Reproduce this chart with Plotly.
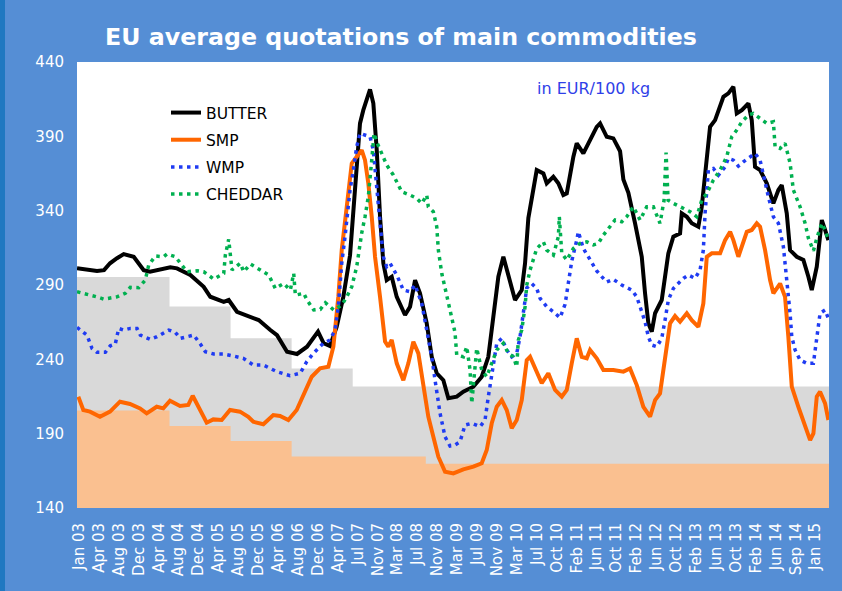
import pandas as pd
import plotly.graph_objects as go

# ---------------- data (time as decimal years, values in EUR/100 kg) ----------------
butter_t = [2002.984, 2003.147, 2003.311, 2003.426, 2003.524, 2003.638, 2003.748, 2003.912, 2004.075, 2004.178,
            2004.342, 2004.511, 2004.620, 2004.838, 2005.057, 2005.165, 2005.385, 2005.466, 2005.602, 2005.820,
            2005.957, 2006.147, 2006.257, 2006.421, 2006.584, 2006.748, 2006.928, 2007.021, 2007.124, 2007.234,
            2007.342, 2007.452, 2007.506, 2007.561, 2007.615, 2007.669, 2007.725, 2007.779, 2007.833, 2007.889,
            2007.943, 2007.997, 2008.052, 2008.134, 2008.216, 2008.352, 2008.434, 2008.516, 2008.597, 2008.707,
            2008.789, 2008.871, 2008.979, 2009.061, 2009.198, 2009.306, 2009.470, 2009.607, 2009.715, 2009.797,
            2009.879, 2009.961, 2010.071, 2010.152, 2010.262, 2010.316, 2010.370, 2010.452, 2010.507, 2010.616,
            2010.671, 2010.779, 2010.861, 2010.943, 2010.999, 2011.107, 2011.162, 2011.270, 2011.380, 2011.489,
            2011.544, 2011.653, 2011.761, 2011.871, 2011.925, 2012.007, 2012.116, 2012.226, 2012.280, 2012.334,
            2012.390, 2012.444, 2012.553, 2012.661, 2012.743, 2012.853, 2012.881, 2012.963, 2013.044, 2013.152,
            2013.208, 2013.290, 2013.344, 2013.426, 2013.508, 2013.562, 2013.643, 2013.725, 2013.781, 2013.863,
            2013.971, 2014.026, 2014.080, 2014.162, 2014.272, 2014.380, 2014.462, 2014.517, 2014.599, 2014.653,
            2014.763, 2014.871, 2014.953, 2015.008, 2015.090, 2015.172, 2015.226, 2015.280]
butter_v = [301.2, 300.5, 299.4, 300.0, 304.6, 308.0, 310.8, 309.0, 300.0, 299.0,
            300.5, 301.9, 301.2, 296.7, 288.8, 282.1, 278.7, 279.9, 272.0, 268.6,
            266.4, 259.7, 256.3, 245.1, 243.6, 248.5, 258.6, 250.8, 249.0, 262.0,
            282.0, 310.0, 340.4, 374.0, 398.7, 407.6, 414.4, 421.6, 412.2, 380.7,
            335.9, 304.6, 293.3, 295.6, 282.0, 269.8, 275.4, 293.3, 284.4, 264.2,
            241.7, 230.6, 226.0, 213.8, 214.9, 218.2, 221.6, 228.3, 241.7, 266.4,
            295.6, 309.0, 293.3, 279.9, 286.6, 304.6, 335.0, 353.9, 367.3, 365.1,
            358.4, 362.8, 358.4, 350.5, 351.6, 376.3, 385.3, 378.5, 387.5, 396.4,
            398.7, 389.7, 388.6, 380.0, 361.0, 352.0, 331.5, 309.0, 284.4, 264.2,
            258.6, 271.0, 279.9, 311.3, 322.5, 324.7, 338.2, 335.9, 331.5, 329.2,
            342.6, 371.8, 396.4, 400.9, 409.9, 416.6, 418.9, 423.3, 405.4, 407.6,
            412.2, 400.9, 369.5, 367.3, 358.4, 344.9, 353.9, 357.2, 338.2, 313.5,
            309.0, 306.8, 295.6, 286.6, 302.3, 333.7, 327.0, 320.2]

smp_t = [2003.005, 2003.087, 2003.196, 2003.360, 2003.524, 2003.687, 2003.851, 2004.015, 2004.124, 2004.288,
         2004.396, 2004.506, 2004.669, 2004.805, 2004.877, 2004.969, 2005.106, 2005.214, 2005.352, 2005.488,
         2005.651, 2005.787, 2005.869, 2006.033, 2006.196, 2006.306, 2006.442, 2006.579, 2006.715, 2006.825,
         2006.961, 2007.097, 2007.179, 2007.260, 2007.316, 2007.370, 2007.424, 2007.480, 2007.561, 2007.643,
         2007.697, 2007.751, 2007.807, 2007.861, 2007.943, 2008.025, 2008.079, 2008.134, 2008.216, 2008.324,
         2008.406, 2008.488, 2008.570, 2008.652, 2008.733, 2008.815, 2008.897, 2009.007, 2009.143, 2009.306,
         2009.470, 2009.607, 2009.689, 2009.771, 2009.853, 2009.935, 2010.016, 2010.098, 2010.180, 2010.262,
         2010.344, 2010.398, 2010.507, 2010.589, 2010.697, 2010.807, 2010.917, 2010.999, 2011.080, 2011.162,
         2011.244, 2011.326, 2011.380, 2011.489, 2011.598, 2011.761, 2011.925, 2012.034, 2012.144, 2012.252,
         2012.362, 2012.444, 2012.525, 2012.607, 2012.689, 2012.771, 2012.853, 2012.963, 2013.044, 2013.152,
         2013.234, 2013.290, 2013.372, 2013.508, 2013.590, 2013.672, 2013.725, 2013.807, 2013.889, 2013.945,
         2014.026, 2014.108, 2014.162, 2014.244, 2014.326, 2014.380, 2014.490, 2014.571, 2014.625, 2014.681,
         2014.789, 2014.899, 2014.981, 2015.035, 2015.090, 2015.144, 2015.226, 2015.280]
smp_v = [214.9, 205.9, 204.8, 201.4, 204.8, 211.5, 210.0, 207.0, 203.7, 208.1,
         207.0, 212.2, 208.6, 209.3, 215.5, 208.1, 197.4, 199.6, 199.2, 205.9,
         204.8, 201.4, 198.0, 196.3, 202.5, 201.9, 199.2, 205.9, 218.2, 228.3,
         233.9, 235.0, 248.5, 282.0, 313.5, 331.5, 353.9, 371.8, 376.3, 380.7,
         374.0, 358.4, 335.9, 309.0, 282.0, 252.0, 248.5, 253.0, 237.3, 226.0,
         237.3, 251.8, 244.0, 221.6, 201.4, 187.9, 174.5, 164.4, 163.3, 166.0,
         167.8, 170.1, 179.0, 197.0, 208.1, 212.6, 205.9, 193.6, 199.2, 212.6,
         239.5, 241.7, 230.6, 223.9, 230.6, 219.4, 214.9, 219.4, 237.3, 254.1,
         241.7, 240.7, 246.3, 240.7, 232.8, 232.8, 231.7, 233.9, 222.7, 208.1,
         201.4, 212.6, 217.1, 241.7, 264.2, 269.1, 265.3, 271.0, 266.4, 261.9,
         277.6, 309.0, 311.3, 311.3, 320.2, 325.8, 320.2, 309.0, 318.0, 325.8,
         327.0, 331.5, 329.2, 313.5, 293.3, 284.4, 291.0, 282.0, 255.2, 221.6,
         208.1, 194.7, 185.7, 190.2, 214.9, 218.2, 210.4, 199.2]

wmp_t = [2002.984, 2003.147, 2003.229, 2003.311, 2003.447, 2003.529, 2003.610, 2003.666, 2003.748, 2003.856,
         2003.966, 2004.020, 2004.183, 2004.293, 2004.484, 2004.593, 2004.674, 2004.894, 2005.002, 2005.084,
         2005.221, 2005.385, 2005.548, 2005.705, 2005.869, 2006.033, 2006.252, 2006.470, 2006.634, 2006.743,
         2006.851, 2007.015, 2007.124, 2007.206, 2007.260, 2007.316, 2007.370, 2007.452, 2007.506, 2007.561,
         2007.615, 2007.697, 2007.779, 2007.833, 2007.889, 2007.943, 2007.997, 2008.052, 2008.107, 2008.216,
         2008.324, 2008.434, 2008.516, 2008.625, 2008.707, 2008.789, 2008.843, 2008.925, 2009.007, 2009.088,
         2009.170, 2009.252, 2009.334, 2009.444, 2009.580, 2009.661, 2009.715, 2009.771, 2009.853, 2009.935,
         2010.016, 2010.098, 2010.180, 2010.234, 2010.288, 2010.344, 2010.426, 2010.507, 2010.562, 2010.671,
         2010.779, 2010.889, 2010.971, 2011.025, 2011.080, 2011.162, 2011.188, 2011.270, 2011.380, 2011.489,
         2011.571, 2011.653, 2011.761, 2011.898, 2012.062, 2012.144, 2012.198, 2012.280, 2012.334, 2012.390,
         2012.472, 2012.553, 2012.607, 2012.661, 2012.743, 2012.825, 2012.907, 2012.989, 2013.098, 2013.180,
         2013.234, 2013.262, 2013.316, 2013.398, 2013.480, 2013.590, 2013.643, 2013.725, 2013.807, 2013.889,
         2013.971, 2014.080, 2014.162, 2014.244, 2014.298, 2014.380, 2014.462, 2014.544, 2014.599, 2014.653,
         2014.681, 2014.735, 2014.817, 2014.927, 2015.035, 2015.062, 2015.100, 2015.144, 2015.226, 2015.280]
wmp_v = [261.5, 256.3, 247.4, 244.7, 244.7, 249.1, 250.3, 260.8, 259.7, 260.8,
         260.8, 256.3, 253.4, 255.2, 259.7, 258.1, 254.1, 256.3, 250.3, 245.1,
         243.6, 243.6, 242.2, 240.7, 236.2, 236.2, 231.7, 229.0, 230.6, 238.4,
         244.0, 250.8, 253.0, 259.7, 275.4, 304.6, 322.5, 353.9, 367.3, 383.0,
         392.0, 390.8, 389.7, 380.7, 358.4, 331.5, 309.0, 302.3, 304.6, 296.7,
         286.6, 285.5, 290.0, 277.6, 259.7, 241.7, 226.0, 203.7, 187.9, 181.7,
         182.4, 184.6, 195.8, 197.0, 194.7, 199.2, 214.9, 230.6, 250.8, 254.1,
         246.3, 241.7, 244.0, 255.2, 271.0, 288.0, 291.0, 287.7, 281.0, 275.4,
         272.0, 268.0, 277.0, 293.0, 306.0, 320.2, 325.8, 314.6, 306.8, 299.5,
         295.6, 292.0, 293.8, 290.0, 286.6, 282.0, 275.4, 265.3, 255.2, 249.6,
         248.5, 254.1, 266.4, 279.9, 287.7, 291.0, 294.5, 296.7, 294.5, 300.1,
         313.5, 338.2, 367.3, 368.4, 363.9, 369.5, 375.2, 374.0, 370.0, 372.9,
         375.2, 378.5, 374.0, 360.6, 349.4, 335.9, 331.5, 315.7, 295.6, 271.0,
         255.2, 246.3, 239.5, 237.3, 237.3, 246.3, 259.7, 271.0, 273.2, 267.5]

cheddar_t = [2002.984, 2003.147, 2003.311, 2003.421, 2003.638, 2003.774, 2003.856, 2003.993, 2004.101, 2004.157,
             2004.265, 2004.403, 2004.457, 2004.593, 2004.674, 2004.784, 2004.948, 2005.057, 2005.221, 2005.385,
             2005.411, 2005.466, 2005.520, 2005.656, 2005.712, 2005.820, 2005.984, 2006.121, 2006.229, 2006.367,
             2006.475, 2006.530, 2006.557, 2006.694, 2006.748, 2006.858, 2006.966, 2007.048, 2007.185, 2007.316,
             2007.398, 2007.480, 2007.561, 2007.643, 2007.697, 2007.751, 2007.807, 2007.845, 2007.899, 2007.971,
             2008.052, 2008.160, 2008.242, 2008.298, 2008.434, 2008.543, 2008.625, 2008.707, 2008.733, 2008.815,
             2008.871, 2008.897, 2008.953, 2009.034, 2009.088, 2009.170, 2009.198, 2009.306, 2009.362, 2009.416,
             2009.444, 2009.525, 2009.607, 2009.689, 2009.771, 2009.853, 2009.961, 2010.043, 2010.125, 2010.180,
             2010.206, 2010.262, 2010.316, 2010.344, 2010.398, 2010.452, 2010.507, 2010.616, 2010.671, 2010.779,
             2010.861, 2010.877, 2010.917, 2010.999, 2011.107, 2011.216, 2011.326, 2011.434, 2011.516, 2011.598,
             2011.707, 2011.789, 2011.898, 2011.980, 2012.089, 2012.198, 2012.308, 2012.416, 2012.525, 2012.591,
             2012.624, 2012.657, 2012.743, 2012.853, 2013.017, 2013.126, 2013.208, 2013.290, 2013.398, 2013.508,
             2013.617, 2013.699, 2013.781, 2013.863, 2013.971, 2014.053, 2014.162, 2014.272, 2014.380, 2014.408,
             2014.490, 2014.571, 2014.653, 2014.707, 2014.817, 2014.899, 2014.953, 2015.035, 2015.090, 2015.172,
             2015.226, 2015.280]
cheddar_v = [285.5, 283.9, 282.0, 280.5, 282.0, 284.4, 288.4, 288.2, 293.3, 303.4,
             309.5, 309.0, 310.8, 309.0, 304.6, 298.9, 299.6, 298.9, 294.0, 297.8,
             310.1, 320.7, 300.1, 304.6, 298.9, 304.1, 300.1, 296.7, 287.7, 291.0,
             286.6, 297.8, 283.2, 284.4, 279.9, 273.2, 273.6, 278.1, 273.2, 276.5,
             282.0, 288.8, 302.3, 325.0, 335.9, 349.4, 374.0, 392.0, 385.3, 378.5,
             370.7, 364.0, 357.2, 352.7, 350.5, 348.3, 344.9, 350.5, 342.6, 339.3,
             329.2, 313.5, 297.8, 284.4, 273.2, 258.0, 242.9, 241.7, 248.5, 232.8,
             210.4, 247.4, 232.8, 228.3, 237.3, 246.3, 250.8, 244.0, 241.7, 235.0,
             253.0, 259.7, 275.4, 290.0, 300.0, 308.0, 314.5, 319.0, 313.5, 310.1,
             322.5, 335.9, 311.3, 306.8, 314.6, 318.0, 319.0, 317.0, 318.0, 323.6,
             329.2, 333.7, 332.5, 335.9, 342.6, 333.7, 342.6, 342.6, 331.5, 347.0,
             379.0, 347.0, 344.9, 342.6, 339.3, 335.9, 347.1, 351.6, 360.6, 367.3,
             376.3, 389.7, 394.2, 399.8, 404.3, 405.4, 402.1, 398.7, 399.8, 383.0,
             381.9, 385.3, 372.0, 353.9, 342.6, 331.5, 321.5, 313.0, 321.4, 331.5,
             327.0, 320.2]

# intervention-price step levels (grey: butter, peach: SMP)
butter_int_dates = ["2002-12-26", "2004-07-01", "2005-07-01", "2006-07-01", "2007-07-01", "2015-04-17"]
butter_int_v = [295.38, 275.56, 254.19, 233.81, 221.75, 221.75]
smp_int_dates = ["2002-12-26", "2004-07-01", "2005-07-01", "2006-07-01", "2008-09-10", "2015-04-17"]
smp_int_v = [205.52, 195.24, 185.00, 174.69, 169.80, 169.80]

tick_labels = ["Jan 03", "Apr 03", "Aug 03", "Dec 03", "Apr 04", "Aug 04", "Dec 04", "Apr 05", "Aug 05",
               "Dec 05", "Apr 06", "Aug 06", "Dec 06", "Apr 07", "Jul 07", "Nov 07", "Mar 08", "Jul 08",
               "Nov 08", "Mar 09", "Jul 09", "Nov 09", "Mar 10", "Jul 10", "Oct 10", "Feb 11", "Jun 11",
               "Oct 11", "Feb 12", "Jun 12", "Oct 12", "Feb 13", "Jun 13", "Oct 13", "Feb 14", "Jun 14",
               "Sep 14", "Jan 15"]
y_ticks = [140, 190, 240, 290, 340, 390, 440]


def to_dates(ts):
    base = pd.Timestamp("2003-01-01")
    return [base + pd.Timedelta(days=(t - 2003.0) * 365.25) for t in ts]


tick_vals = [pd.Timestamp("2003-01-07") + pd.Timedelta(days=119 * k) for k in range(len(tick_labels))]

BG = "#558ED5"
FONT = "DejaVu Sans, Verdana, sans-serif"

fig = go.Figure()

fig.add_trace(go.Scatter(x=butter_int_dates, y=butter_int_v, mode="lines", line=dict(shape="hv", width=0),
                         fill="tozeroy", fillcolor="#D9D9D9", showlegend=False, hoverinfo="skip"))
fig.add_trace(go.Scatter(x=smp_int_dates, y=smp_int_v, mode="lines", line=dict(shape="hv", width=0),
                         fill="tozeroy", fillcolor="#FAC090", showlegend=False, hoverinfo="skip"))

fig.add_trace(go.Scatter(x=to_dates(butter_t), y=butter_v, mode="lines", name="BUTTER",
                         legendgroup="a", line=dict(color="#000000", width=4)))
fig.add_trace(go.Scatter(x=to_dates(smp_t), y=smp_v, mode="lines", name="SMP",
                         legendgroup="b", line=dict(color="#FF6600", width=4)))
fig.add_trace(go.Scatter(x=to_dates(wmp_t), y=wmp_v, mode="lines", name="WMP",
                         legendgroup="c", line=dict(color="#1F3BF2", width=3.5, dash="3.5px,4.5px")))
fig.add_trace(go.Scatter(x=to_dates(cheddar_t), y=cheddar_v, mode="lines", name="CHEDDAR",
                         legendgroup="d", line=dict(color="#00B050", width=3.5, dash="3.5px,4.5px")))

fig.update_layout(
    width=842, height=591,
    margin=dict(l=77, r=13, t=62, b=83),
    paper_bgcolor=BG, plot_bgcolor="#FFFFFF",
    font=dict(family=FONT, color="#FFFFFF"),
    title=dict(text="<b>EU average quotations of main commodities</b>", x=401 / 842, y=1 - 37 / 591,
               xanchor="center", yanchor="middle", xref="container", yref="container",
               font=dict(family=FONT, size=23.7, color="#FFFFFF")),
    xaxis=dict(type="date", range=["2002-12-26", "2015-04-17"], tickmode="array", tickvals=tick_vals,
               ticktext=tick_labels, tickangle=-90, showgrid=False, zeroline=False, showline=False,
               ticks="", ticklabelstandoff=11, tickfont=dict(family=FONT, size=15, color="#FFFFFF")),
    yaxis=dict(range=[140, 440], tickmode="array", tickvals=y_ticks, showgrid=False, zeroline=False,
               showline=False, ticks="", ticklabelstandoff=12,
               tickfont=dict(family=FONT, size=15, color="#FFFFFF")),
    legend=dict(x=(166 - 77) / 752, y=(508 - 96) / 446, xanchor="left", yanchor="top",
                bgcolor="rgba(0,0,0,0)", borderwidth=0, traceorder="grouped", tracegroupgap=4,
                font=dict(family=FONT, size=15.5, color="#000000")),
    annotations=[dict(text="in EUR/100 kg", x=(593 - 77) / 752, y=(508 - 89) / 446, xref="paper",
                      yref="paper", showarrow=False, xanchor="center", yanchor="middle",
                      font=dict(family=FONT, size=16, color="#2F3FE8"))],
    shapes=[dict(type="rect", xref="paper", yref="paper", x0=-77 / 752, x1=-72 / 752,
                 y0=-83 / 446, y1=1 + 62 / 446, fillcolor="#1F78C1", line=dict(width=0), layer="above")],
)

fig.write_html("out.html", config={"displayModeBar": False},
               post_script="document.body.style.margin='0';document.body.style.padding='0';")
